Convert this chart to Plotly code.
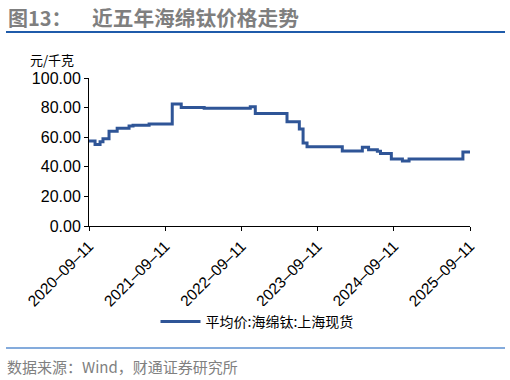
import plotly.graph_objects as go

# Step data: 平均价:海绵钛:上海现货 (元/千克)
dates = ["2020-09-11", "2020-10-10", "2020-11-03", "2020-11-17", "2020-12-16",
         "2021-01-24", "2021-03-22", "2021-04-10", "2021-06-26", "2021-10-15",
         "2021-11-27", "2022-03-17", "2022-10-24", "2022-11-17", "2023-04-18",
         "2023-06-16", "2023-07-04", "2023-07-23", "2024-01-08", "2024-04-13",
         "2024-05-13", "2024-06-24", "2024-07-09", "2024-08-30", "2024-10-22",
         "2024-11-23", "2025-08-08", "2025-09-11"]
values = [57.5, 55, 57, 59, 64,
          66, 67.5, 68, 69, 82.5,
          80, 79.5, 80.5, 76, 70.5,
          65.5, 56, 53.5, 50.7, 53.2,
          51.6, 50.5, 49, 45.3, 44,
          45.3, 50, 50]

tick_dates = ["2020-09-11", "2021-09-11", "2022-09-11", "2023-09-11", "2024-09-11", "2025-09-11"]
tick_labels = ["2020–09–11", "2021–09–11", "2022–09–11", "2023–09–11", "2024–09–11", "2025–09–11"]

series_name = "平均价:海绵钛:上海现货"
title_num = "图13："
title_text = "近五年海绵钛价格走势"
unit_text = "元/千克"
source_text = "数据来源：Wind，财通证券研究所"

FONT = "Liberation Sans, Arial, Noto Sans CJK SC, sans-serif"
CJK = "Noto Sans CJK SC, Liberation Sans, sans-serif"

W, H = 510, 380
L, R, T, B = 89, 40, 78, 154
pw = W - L - R
ph = H - T - B

def px(x):
    return (x - L) / pw

def py(y):
    return (H - B - y) / ph

fig = go.Figure()
fig.add_trace(go.Scatter(
    x=dates, y=values, mode="lines", name=series_name,
    line=dict(color="#2F5597", width=3, shape="hv"),
    cliponaxis=False,
))

fig.update_layout(
    width=W, height=H,
    margin=dict(l=L, r=R, t=T, b=B, autoexpand=False),
    paper_bgcolor="white", plot_bgcolor="white",
    font=dict(family=FONT, size=14, color="black"),
    showlegend=True,
    legend=dict(orientation="h", x=px(257), y=py(322), xanchor="center", yanchor="middle",
                font=dict(family=CJK, size=14, color="black"), itemwidth=40),
    xaxis=dict(type="date", range=["2020-09-11", "2025-09-11"],
               tickvals=tick_dates, ticktext=tick_labels, tickangle=-45,
               showline=True, linecolor="black", linewidth=1,
               ticks="outside", ticklen=4, tickcolor="black",
               showgrid=False, zeroline=False, automargin=False,
               tickfont=dict(family=FONT, size=15.5, color="black")),
    yaxis=dict(range=[0, 100], dtick=20, tickformat=".2f",
               showline=True, linecolor="black", linewidth=1,
               ticks="outside", ticklen=4, tickcolor="black",
               showgrid=False, zeroline=False, automargin=False,
               tickfont=dict(family=FONT, size=16, color="black")),
)

annotations = [
    dict(text="<b>" + title_num + "</b>", x=px(6), y=py(17), xanchor="left", yanchor="middle",
         font=dict(family=CJK, size=20, color="#7F7F7F")),
    dict(text="<b>" + title_text + "</b>", x=px(90), y=py(17), xanchor="left", yanchor="middle",
         font=dict(family=CJK, size=20.7, color="#7F7F7F")),
    dict(text=unit_text, x=px(28), y=py(59), xanchor="left", yanchor="middle",
         font=dict(family=CJK, size=13, color="black")),
    dict(text=source_text, x=px(5), y=py(366), xanchor="left", yanchor="middle",
         font=dict(family=CJK, size=15, color="#808080")),
]
for a in annotations:
    a.update(xref="paper", yref="paper", showarrow=False)
fig.update_layout(annotations=annotations)

fig.add_shape(type="line", xref="paper", yref="paper",
              x0=px(6), x1=px(505), y0=py(32), y1=py(32),
              line=dict(color="#1F5BAA", width=2))
fig.add_shape(type="line", xref="paper", yref="paper",
              x0=px(6), x1=px(505), y0=py(348), y1=py(348),
              line=dict(color="#5B8FD0", width=1.5))

fig.write_html("out.html", config={"displayModeBar": False},
               post_script="document.body.style.margin='0';document.body.style.overflow='hidden';")
